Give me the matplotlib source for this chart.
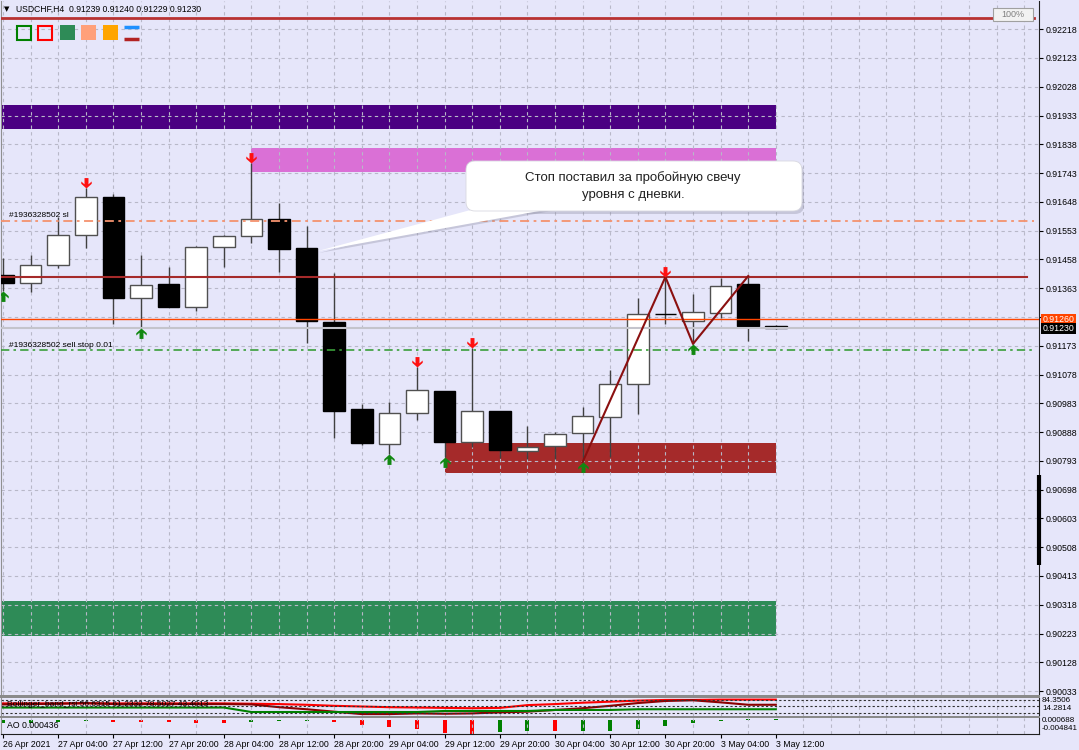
import numpy as np
import matplotlib.pyplot as plt
from matplotlib.patches import Rectangle, FancyBboxPatch, Polygon
from matplotlib.path import Path

plt.rcParams['font.family'] = ['Liberation Sans', 'DejaVu Sans']

# USDCHF H4, bars from 26 Apr 20:00 to 3 May 12:00
opens = [0.91407, 0.91380, 0.91440, 0.91539, 0.91664, 0.91331, 0.91377, 0.91301, 0.91499, 0.91536,
         0.91592, 0.91496, 0.91252, 0.90964, 0.90849, 0.90951, 0.91024, 0.90855, 0.90958, 0.90826,
         0.90842, 0.90885, 0.90938, 0.91047, 0.91278, 0.91255, 0.91281, 0.91377, 0.91239]
highs = [0.91463, 0.91473, 0.91598, 0.91694, 0.91674, 0.91473, 0.91433, 0.91502, 0.91539, 0.91777,
         0.91644, 0.91569, 0.91413, 0.90981, 0.90987, 0.91103, 0.91024, 0.91166, 0.90958, 0.90908,
         0.90888, 0.90971, 0.91093, 0.91331, 0.91400, 0.91344, 0.91397, 0.91403, 0.91240]
lows = [0.91355, 0.91351, 0.91430, 0.91496, 0.91245, 0.91232, 0.91301, 0.91288, 0.91433, 0.91512,
        0.91417, 0.91182, 0.90868, 0.90845, 0.90816, 0.90928, 0.90806, 0.90839, 0.90802, 0.90799,
        0.90799, 0.90789, 0.90806, 0.90948, 0.91245, 0.91179, 0.91265, 0.91189, 0.91229]
closes = [0.91380, 0.91440, 0.91539, 0.91664, 0.91331, 0.91374, 0.91301, 0.91499, 0.91536, 0.91592,
          0.91493, 0.91255, 0.90958, 0.90852, 0.90951, 0.91027, 0.90855, 0.90958, 0.90829, 0.90839,
          0.90882, 0.90941, 0.91047, 0.91278, 0.91277, 0.91285, 0.91370, 0.91239, 0.91230]

tick_labels = ['26 Apr 2021', '27 Apr 04:00', '27 Apr 12:00', '27 Apr 20:00', '28 Apr 04:00',
               '28 Apr 12:00', '28 Apr 20:00', '29 Apr 04:00', '29 Apr 12:00', '29 Apr 20:00',
               '30 Apr 04:00', '30 Apr 12:00', '30 Apr 20:00', '3 May 04:00', '3 May 12:00']
price_ticks = [0.90033, 0.90128, 0.90223, 0.90318, 0.90413, 0.90508, 0.90603, 0.90698, 0.90793,
               0.90888, 0.90983, 0.91078, 0.91173, 0.91268, 0.91363, 0.91458, 0.91553, 0.91648,
               0.91743, 0.91838, 0.91933, 0.92028, 0.92123, 0.92218]

# supply / demand zones
zone_start = [-1, 9, 16, -1]
zone_end = [28, 28, 28, 28]
zone_low = [0.91889, 0.91747, 0.90753, 0.90215]
zone_high = [0.91968, 0.91826, 0.90852, 0.90330]
zone_colors = ['#4B0082', '#DA70D6', '#A52A2A', '#2E8B57']

# fractals
up_fractals = [3, 9, 15, 17, 24]
down_fractals = [0, 5, 14, 16, 21, 25]

# zigzag
zz_bars = [21, 24, 25, 27]
zz_prices = [lows[21], highs[24], lows[25], highs[27]]

top_line = 0.92254
level_line = 0.91400
sl_price = 0.91586
order_price = 0.91260
bid_price = 0.91230
sellstop_price = 0.91158

# AO values
ao = [-0.00108, -0.00087, -0.00054, -0.00043, -0.00054, -0.00065, -0.00068, -0.00095, -0.00100,
      -0.00055, -0.00040, -0.00033, -0.00067, -0.00157, -0.00257, -0.00325, -0.00450, -0.004841,
      -0.00400, -0.00380, -0.00390, -0.00380, -0.00364, -0.00310, -0.00216, -0.00114, -0.00034,
      0.00020, 0.000436]
ao_up = [True, True, True, True, False, False, False, False, False, True, True, True, False, False,
         False, False, False, False, True, True, False, True, True, True, True, True, True, True, True]

# bollinger bands on rsi
bb_upper = [59, 59, 59, 59, 59, 59, 59, 59, 59, 58, 57, 55, 52, 50, 48, 47, 46, 45, 46, 54,
            57, 61, 64, 67, 69, 69, 70, 70, 70]
bb_rsi = [56, 57, 58, 60, 57, 57, 57, 57, 57, 56, 48, 42, 35, 28, 28, 30, 29, 30, 33, 35,
          40, 45, 52, 60, 66, 68, 62, 55, 55]
bb_lower = [47, 47, 47, 47, 47, 47, 47, 47, 47, 34, 34, 34, 34, 34, 34, 34, 37, 37, 37, 37,
            40, 40, 40, 42, 42, 42, 42, 42, 42]

W, H = 1079, 750
BG = '#E6E6FA'


def box(x0, y0, x1, y1):
    return [x0 / W, 1 - y1 / H, (x1 - x0) / W, (y1 - y0) / H]


fig = plt.figure(figsize=(W / 100, H / 100), dpi=100, facecolor=BG)
ax = fig.add_axes(box(1, 1, 1039, 695), facecolor=BG)
ax1 = fig.add_axes(box(1, 697.5, 1039, 715.5), facecolor=BG)
ax2 = fig.add_axes(box(1, 718, 1039, 734), facecolor=BG)

xl = (-0.0725, 37.536)
grid_kw = dict(color='#b8b8c8', linestyle=(0, (3, 3)), linewidth=0.8)

# ---- main chart
for s, e, lo, hi, c in zip(zone_start, zone_end, zone_low, zone_high, zone_colors):
    ax.add_patch(Rectangle((s, lo), e - s, hi - lo, facecolor=c, edgecolor='none', zorder=1))

for i in range(len(opens)):
    o, h, l, c = opens[i], highs[i], lows[i], closes[i]
    up = c >= o
    ax.vlines(i, l, h, color='#404040', linewidth=1, zorder=3)
    ax.bar(i, max(abs(c - o), 0.00001), bottom=min(o, c), width=0.78,
           color='white' if up else 'black', edgecolor='#505050' if up else 'black',
           linewidth=1, zorder=4)

ax.axhline(top_line, xmax=0.995, color='#B83232', linewidth=2, zorder=5)
ax.axhline(level_line, xmax=0.988, color='#A52A2A', linewidth=1.5, zorder=5)
ax.axhline(sl_price, xmax=0.995, color='#F4926E', linewidth=1.3, linestyle=(0, (5, 2.5, 1.5, 2.5)), zorder=5)
ax.axhline(bid_price, color='#C4C4CC', linewidth=1.5, zorder=5)
ax.axhline(order_price, color='#FF4500', linewidth=1, zorder=5)
ax.axhline(sellstop_price, xmax=0.995, color='#3A9E3A', linewidth=1.2, linestyle=(0, (5, 2.5, 1.5, 2.5)), zorder=5)

ax.text(0.2, sl_price + 0.00005, '#1936328502 sl', fontsize=6, va='bottom', zorder=6)
ax.text(0.2, sellstop_price + 0.00005, '#1936328502 sell stop 0.01', fontsize=6, va='bottom', zorder=6)

ax.plot(zz_bars, zz_prices, color='#8B1010', linewidth=1.5, zorder=6)

dn = [(0, 0), (1.0, 0.9), (1.0, 1.35), (0.38, 0.8), (0.38, 2.0), (-0.38, 2.0), (-0.38, 0.8),
      (-1.0, 1.35), (-1.0, 0.9), (0, 0)]
up_path = Path([(x, -y) for x, y in dn])
dn_path = Path(dn)
ax.plot(up_fractals, [highs[i] for i in up_fractals], linestyle='none', marker=dn_path,
        markersize=15, color='#FF1010', markeredgewidth=0, zorder=7)
ax.plot(down_fractals, [lows[i] for i in down_fractals], linestyle='none', marker=up_path,
        markersize=15, color='#118811', markeredgewidth=0, zorder=7)

ax.set_xlim(*xl)
ax.set_ylim(0.90020, 0.92311)
ax.set_xticks(np.arange(0, 38))
ax.set_yticks(price_ticks)
# the 0.91268 label sits under the order price box
ax.set_yticklabels(['' if p == 0.91268 else '%.5f' % p for p in price_ticks])
ax.yaxis.tick_right()
ax.tick_params(axis='y', labelsize=6.3, length=3, pad=1.5, width=0.8)
ax.tick_params(axis='x', length=0, labelbottom=False)
ax.grid(True, **grid_kw)
ax.set_axisbelow('line')
for side in ['top', 'bottom']:
    ax.spines[side].set_visible(False)
ax.spines['left'].set_color('#909090')
ax.spines['right'].set_color('#202020')

tr = ax.get_yaxis_transform()
ax.text(1.0035, order_price, '%.5f' % order_price, transform=tr, fontsize=6.3, color='white',
        va='center', ha='left', clip_on=False, zorder=10,
        bbox=dict(boxstyle='square,pad=0.15', facecolor='#FF4500', edgecolor='none'))
ax.text(1.0035, bid_price, '%.5f' % bid_price, transform=tr, fontsize=6.3, color='white',
        va='center', ha='left', clip_on=False, zorder=10,
        bbox=dict(boxstyle='square,pad=0.15', facecolor='black', edgecolor='none'))

# ---- bollinger rsi panel
bars = np.arange(len(opens))
ax1.plot(bars, bb_upper, color='#FF0000', linewidth=1.5)
ax1.plot(bars, bb_rsi, color='#8B0000', linewidth=1.5)
ax1.plot(bars, bb_lower, color='#008000', linewidth=1.5)
for lv in [70, 50, 30]:
    ax1.axhline(lv, color='#303030', linewidth=0.8, linestyle=(0, (2, 2)))
ax1.set_xlim(*xl)
ax1.set_ylim(23.9, 76.1)
ax1.set_xticks(np.arange(0, 38))
ax1.set_yticks([])
ax1.tick_params(axis='x', length=0, labelbottom=False)
ax1.grid(True, axis='x', **grid_kw)
ax1.text(0.15, 56, 'Bollinger_band_rsi 56.6315 61.2332 78.5027 43.4013', fontsize=6, va='center')
for side in ['top', 'bottom']:
    ax1.spines[side].set_visible(False)
ax1.spines['left'].set_color('#909090')
ax1.spines['right'].set_color('#202020')

# ---- AO panel
ax2.bar(bars, ao, width=0.15, color=['#008000' if u else '#FF0000' for u in ao_up])
ax2.set_xlim(*xl)
ax2.set_ylim(-0.004841, 0.000688)
ax2.set_yticks([])
ax2.set_xticks(np.arange(0, 29, 2))
ax2.set_xticklabels(tick_labels)
for lab in ax2.get_xticklabels():
    lab.set_horizontalalignment('left')
ax2.set_xticks(np.arange(0, 38), minor=True)
ax2.tick_params(axis='x', which='major', labelsize=6.3, length=3, pad=1.5, width=0.8)
ax2.tick_params(axis='x', which='minor', length=0)
ax2.grid(True, which='minor', axis='x', **grid_kw)
ax2.text(0.15, -0.0018, 'AO 0.000436', fontsize=6.3, va='center')
ax2.spines['top'].set_visible(False)
ax2.spines['left'].set_color('#909090')
ax2.spines['right'].set_color('#202020')
ax2.spines['bottom'].set_color('#202020')

# ---- overlay: window chrome and callout
ov = fig.add_axes([0, 0, 1, 1], zorder=10)
ov.set_xlim(0, W)
ov.set_ylim(H, 0)
ov.axis('off')
ov.patch.set_alpha(0)

ov.add_patch(Rectangle((0, 695), 1040, 2.5, facecolor='#8a8a8a', edgecolor='none'))
ov.add_patch(Rectangle((0, 715.5), 1040, 2.5, facecolor='#8a8a8a', edgecolor='none'))
ov.plot([1039, 1039], [475, 565], color='black', linewidth=3, solid_capstyle='butt')

ov.text(4, 9.5, '\u25bc', fontsize=5, va='center', ha='left', family=['DejaVu Sans'])
ov.text(16, 9.5, 'USDCHF,H4  %.5f %.5f %.5f %.5f' % (opens[-1], highs[-1], lows[-1], closes[-1]),
        fontsize=6.2, va='center', ha='left')

ov.add_patch(Rectangle((993, 8), 40, 13, facecolor='#f2f2f2', edgecolor='#a0a0a0', linewidth=0.8))
ov.text(1013, 14.5, '100%', fontsize=6.5, color='#808080', ha='center', va='center')

ov.add_patch(Rectangle((17, 26), 14, 14, facecolor='none', edgecolor='#008000', linewidth=1.5))
ov.add_patch(Rectangle((38, 26), 14, 14, facecolor='none', edgecolor='#FF0000', linewidth=1.5))
ov.add_patch(Rectangle((60, 25), 15, 15, facecolor='#2E8B57', edgecolor='none'))
ov.add_patch(Rectangle((81, 25), 15, 15, facecolor='#FFA07A', edgecolor='none'))
ov.add_patch(Rectangle((103, 25), 15, 15, facecolor='#FFA500', edgecolor='none'))
ov.plot([124, 139], [27, 27], color='#1E90FF', linewidth=2.5, solid_capstyle='butt')
ov.plot([124, 139], [39, 39], color='#B22222', linewidth=2.5, solid_capstyle='butt')

# callout bubble
bx, by, bw, bh = 466, 161, 336, 50
tail = [(478, 208), (556, 208), (318, 251)]
ov.add_patch(FancyBboxPatch((bx + 2, by + 3), bw, bh, boxstyle='round,pad=0,rounding_size=9',
                            facecolor='#8c8ca0', alpha=0.35, edgecolor='none'))
ov.add_patch(Polygon([(x + 1, y + 2) for x, y in tail], closed=True, facecolor='#8c8ca0',
                     alpha=0.35, edgecolor='none'))
ov.add_patch(Polygon(tail, closed=True, facecolor='white', edgecolor='none'))
ov.add_patch(FancyBboxPatch((bx, by), bw, bh, boxstyle='round,pad=0,rounding_size=9',
                            facecolor='white', edgecolor='#d8d8e0', linewidth=0.6))
ov.text(633, 178, 'Стоп поставил за пробойную свечу', fontsize=9.5, color='#222222',
        ha='center', va='center')
ov.text(633, 195, 'уровня с дневки.', fontsize=9.5, color='#222222', ha='center', va='center')

# indicator scale labels
ov.text(1042, 700.5, '84.3506', fontsize=5.8, va='center', ha='left')
ov.text(1042, 708.5, '14.2814', fontsize=5.8, va='center', ha='left')
ov.text(1042, 721, '0.000688', fontsize=5.8, va='center', ha='left')
ov.text(1042, 729, '-0.004841', fontsize=5.8, va='center', ha='left')

fig.savefig('out.png', dpi=100, facecolor=BG)
